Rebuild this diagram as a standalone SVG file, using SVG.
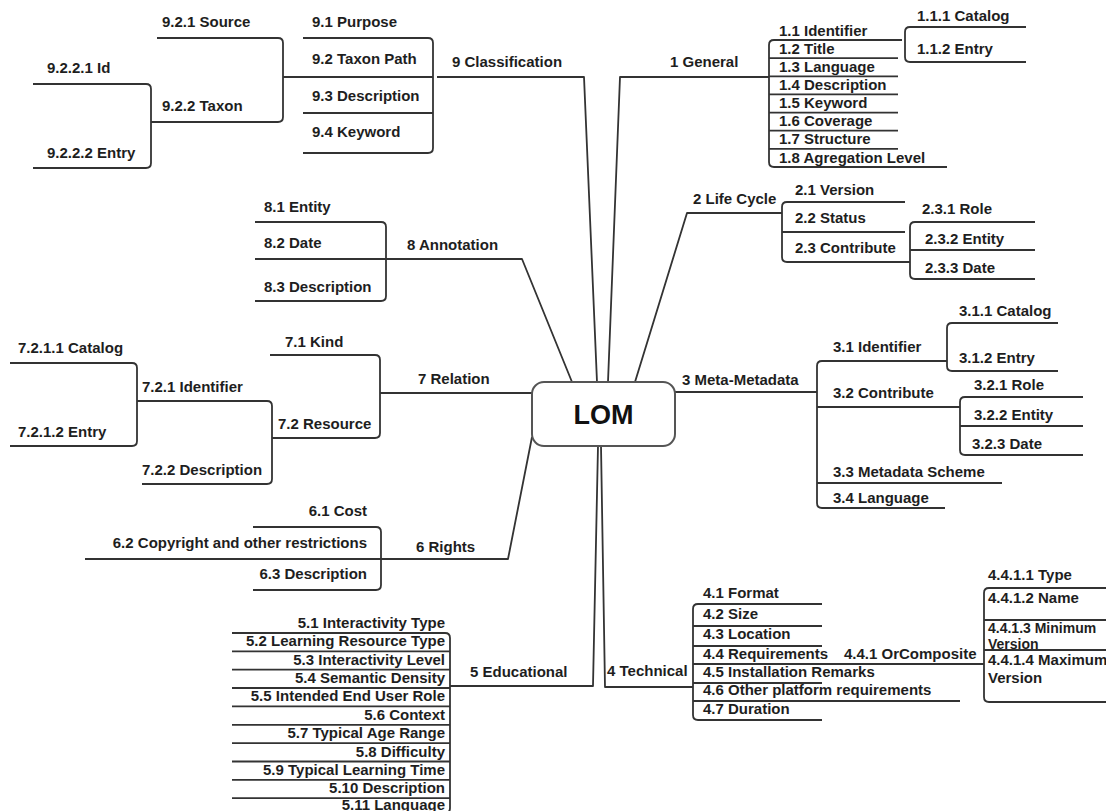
<svg xmlns="http://www.w3.org/2000/svg" width="1106" height="811" viewBox="0 0 1106 811">
<style>
.l{fill:none;stroke:#333;stroke-width:1.8;stroke-linejoin:round}
.t{font-family:"Liberation Sans",Arial,sans-serif;font-weight:bold;font-size:15px;fill:#1e1e1e}
.e{text-anchor:end}
.s{font-size:14px}
.root{fill:#fff;stroke:#555;stroke-width:2}
.rt{font-family:"Liberation Sans",Arial,sans-serif;font-weight:bold;font-size:27px;fill:#111;text-anchor:middle}
</style>
<rect width="1106" height="811" fill="#fff"/>
<g id="connectors">
<path class="l" d="M437,77H584L597,382"/>
<path class="l" d="M608,382L620,77H769"/>
<path class="l" d="M635,382L687,213H782"/>
<path class="l" d="M675,392H817"/>
<path class="l" d="M601,446L605,687H693"/>
<path class="l" d="M598,446L593,686H450"/>
<path class="l" d="M532,437L508,559H381"/>
<path class="l" d="M532,393H380"/>
<path class="l" d="M572,382L522,259H386"/>
<path class="l" d="M303,38H428Q433,38 433,43V148Q433,153 428,153H303"/>
<path class="l" d="M283,77H433M303,113H433"/>
<path class="l" d="M157,38H278Q283,38 283,43V117Q283,122 278,122H151"/>
<path class="l" d="M33,84H146Q151,84 151,89V163Q151,168 146,168H33"/>
<path class="l" d="M902,40H774Q769,40 769,45V162Q769,167 774,167H947"/>
<path class="l" d="M769,58.1H898M769,76.3H898M769,94.4H898M769,112.6H898M769,130.7H898M769,148.9H898"/>
<path class="l" d="M1026,27H910Q905,27 905,32V57Q905,62 910,62H1026"/>
<path class="l" d="M905,202H787Q782,202 782,207V257Q782,262 787,262H910"/>
<path class="l" d="M782,232H905"/>
<path class="l" d="M1035,222H915Q910,222 910,227V274Q910,279 915,279H1035M910,250H1035"/>
<path class="l" d="M947,361H822Q817,361 817,366V503Q817,508 822,508H945"/>
<path class="l" d="M817,407H960M817,483H1002"/>
<path class="l" d="M1058,323H952Q947,323 947,328V366Q947,371 952,371H1058"/>
<path class="l" d="M1083,397H965Q960,397 960,402V450Q960,455 965,455H1083M960,426H1083"/>
<path class="l" d="M822,604H698Q693,604 693,609V715Q693,720 698,720H822"/>
<path class="l" d="M693,626H822M693,646H822M693,664H984M693,683H822M693,701H960"/>
<path class="l" d="M1106,588H989Q984,588 984,593V697Q984,702 989,702H1106M984,620H1106M984,650H1106"/>
<path class="l" d="M232,633H445Q450,633 450,638V808Q450,813 445,813"/>
<path class="l" d="M232,651.4H450M232,669.7H450M232,688H450M232,706.4H450M232,724.8H450M232,743.1H450M232,761.5H450M232,779.8H450M232,798.2H450"/>
<path class="l" d="M253,527H376Q381,527 381,532V585Q381,590 376,590H253M85,559H381"/>
<path class="l" d="M270,355H375Q380,355 380,360V433Q380,438 375,438H272"/>
<path class="l" d="M137,401H267Q272,401 272,406V479Q272,484 267,484H142"/>
<path class="l" d="M10,363H132Q137,363 137,368V441Q137,446 132,446H10"/>
<path class="l" d="M255,222H381Q386,222 386,227V296Q386,301 381,301H255M255,259H386"/>
</g>
<g id="root"><rect class="root" x="532" y="382" width="143" height="64" rx="12"/><text class="rt" x="603.5" y="424">LOM</text></g>
<g id="n9" class="t">
<text x="452" y="67">9 Classification</text>
<text x="312" y="27">9.1 Purpose</text>
<text x="312" y="64">9.2 Taxon Path</text>
<text x="312" y="101">9.3 Description</text>
<text x="312" y="137">9.4 Keyword</text>
<text x="162" y="27">9.2.1 Source</text>
<text x="162" y="111">9.2.2 Taxon</text>
<text x="47" y="73">9.2.2.1 Id</text>
<text x="47" y="158">9.2.2.2 Entry</text>
</g>
<g id="n1" class="t">
<text x="670" y="67">1 General</text>
<text x="779" y="35.5">1.1 Identifier</text>
<text x="779" y="53.6">1.2 Title</text>
<text x="779" y="71.8">1.3 Language</text>
<text x="779" y="89.9">1.4 Description</text>
<text x="779" y="108.1">1.5 Keyword</text>
<text x="779" y="126.2">1.6 Coverage</text>
<text x="779" y="144.4">1.7 Structure</text>
<text x="779" y="162.5">1.8 Agregation Level</text>
<text x="917" y="21">1.1.1 Catalog</text>
<text x="917" y="54">1.1.2 Entry</text>
</g>
<g id="n2" class="t">
<text x="693" y="204">2 Life Cycle</text>
<text x="795" y="195">2.1 Version</text>
<text x="795" y="223">2.2 Status</text>
<text x="795" y="253">2.3 Contribute</text>
<text x="922" y="214">2.3.1 Role</text>
<text x="925" y="244">2.3.2 Entity</text>
<text x="925" y="273">2.3.3 Date</text>
</g>
<g id="n3" class="t">
<text x="682" y="385">3 Meta-Metadata</text>
<text x="833" y="352">3.1 Identifier</text>
<text x="833" y="398">3.2 Contribute</text>
<text x="833" y="477">3.3 Metadata Scheme</text>
<text x="833" y="503">3.4 Language</text>
<text x="959" y="316">3.1.1 Catalog</text>
<text x="959" y="363">3.1.2 Entry</text>
<text x="974" y="390">3.2.1 Role</text>
<text x="974" y="420">3.2.2 Entity</text>
<text x="972" y="449">3.2.3 Date</text>
</g>
<g id="n4" class="t">
<text x="607" y="676">4 Technical</text>
<text x="703" y="598">4.1 Format</text>
<text x="703" y="619">4.2 Size</text>
<text x="703" y="639">4.3 Location</text>
<text x="703" y="659">4.4 Requirements</text>
<text x="703" y="677">4.5 Installation Remarks</text>
<text x="703" y="695">4.6 Other platform requirements</text>
<text x="703" y="714">4.7 Duration</text>
<text x="844" y="659">4.4.1 OrComposite</text>
<text x="988" y="580">4.4.1.1 Type</text>
<text x="988" y="603">4.4.1.2 Name</text>
<text class="s" x="988" y="633">4.4.1.3 Minimum</text>
<text class="s" x="988" y="649">Version</text>
<text x="988" y="665">4.4.1.4 Maximum</text>
<text x="988" y="683">Version</text>
</g>
<g id="n5" class="t e">
<text x="470" y="677" text-anchor="start">5 Educational</text>
<text x="445" y="628">5.1 Interactivity Type</text>
<text x="445" y="646.4">5.2 Learning Resource Type</text>
<text x="445" y="664.7">5.3 Interactivity Level</text>
<text x="445" y="683">5.4 Semantic Density</text>
<text x="445" y="701.4">5.5 Intended End User Role</text>
<text x="445" y="719.8">5.6 Context</text>
<text x="445" y="738.1">5.7 Typical Age Range</text>
<text x="445" y="756.5">5.8 Difficulty</text>
<text x="445" y="774.8">5.9 Typical Learning Time</text>
<text x="445" y="793.2">5.10 Description</text>
<text x="445" y="810">5.11 Language</text>
</g>
<g id="n6" class="t e">
<text x="416" y="552" text-anchor="start">6 Rights</text>
<text x="367" y="516">6.1 Cost</text>
<text x="367" y="548">6.2 Copyright and other restrictions</text>
<text x="367" y="579">6.3 Description</text>
</g>
<g id="n7" class="t">
<text x="418" y="384">7 Relation</text>
<text x="285" y="347">7.1 Kind</text>
<text x="278" y="429">7.2 Resource</text>
<text x="142" y="392">7.2.1 Identifier</text>
<text x="142" y="475">7.2.2 Description</text>
<text x="18" y="353">7.2.1.1 Catalog</text>
<text x="18" y="437">7.2.1.2 Entry</text>
</g>
<g id="n8" class="t">
<text x="407" y="250">8 Annotation</text>
<text x="264" y="212">8.1 Entity</text>
<text x="264" y="248">8.2 Date</text>
<text x="264" y="292">8.3 Description</text>
</g>
</svg>
